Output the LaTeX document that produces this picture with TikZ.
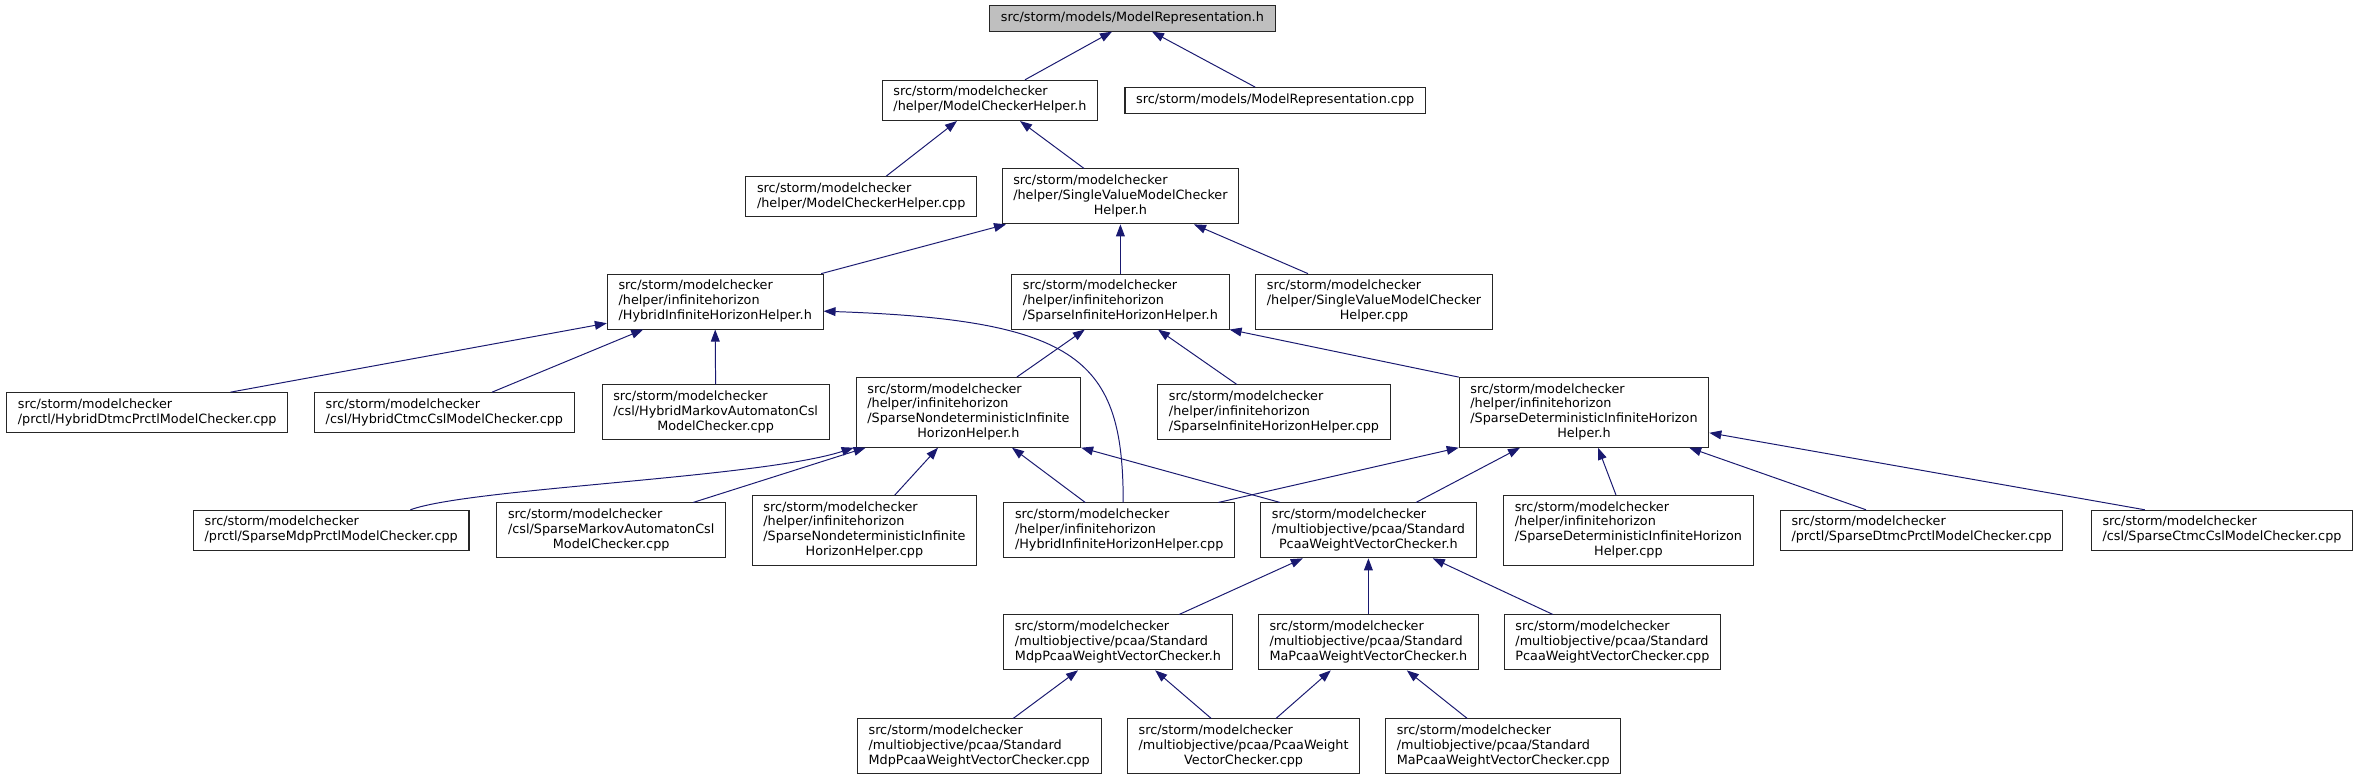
\documentclass[tikz,border=0pt]{standalone}
\usepackage{fontspec}
\setmainfont{DejaVu Sans}
\usepackage{xcolor}
\usepackage{tikz}
\usetikzlibrary{arrows.meta}
\definecolor{edgeblue}{RGB}{25,25,112}
\newcommand{\fpath}[1]{\begin{tabular}{@{}l@{}}#1\end{tabular}}
\newcommand{\lastln}[1]{\multicolumn{1}{@{}c@{}}{#1}}
\tikzset{
  srcfile/.style={rectangle, draw=black!85, fill=white, line width=0.75pt,
                  inner xsep=0.28cm, inner ysep=0.135cm,
                  font=\fontsize{9.1}{10.45}\selectfont},
  rootfile/.style={srcfile, fill=black!25},
  incl/.style={-{Triangle[length=0.3cm, width=0.22cm]}, line width=0.7pt, edgeblue},
}

\begin{document}
\begin{tikzpicture}
\useasboundingbox (0,0) rectangle (58.95,19.5);

% ── Top: the included header ───────────────────────────────
\node[rootfile] (mr_h) at (28.31,19.04) {\fpath{src/storm/models/ModelRepresentation.h}};

% ── Row 1 ──────────────────────────────────────────────────
\node[srcfile] (mch_h) at (24.75,16.99) {\fpath{src/storm/modelchecker\\/helper/ModelCheckerHelper.h}};
\node[srcfile] (mr_cpp) at (31.88,16.99) {\fpath{src/storm/models/ModelRepresentation.cpp}};

% ── Row 2 ──────────────────────────────────────────────────
\node[srcfile] (mch_cpp) at (21.53,14.58) {\fpath{src/storm/modelchecker\\/helper/ModelCheckerHelper.cpp}};
\node[srcfile] (sv_h) at (28.01,14.59) {\fpath{src/storm/modelchecker\\/helper/SingleValueModelChecker\\\lastln{Helper.h}}};

% ── Row 3 ──────────────────────────────────────────────────
\node[srcfile] (hihh_h) at (17.88,11.96) {\fpath{src/storm/modelchecker\\/helper/infinitehorizon\\/HybridInfiniteHorizonHelper.h}};
\node[srcfile] (sihh_h) at (28.01,11.96) {\fpath{src/storm/modelchecker\\/helper/infinitehorizon\\/SparseInfiniteHorizonHelper.h}};
\node[srcfile] (sv_cpp) at (34.35,11.96) {\fpath{src/storm/modelchecker\\/helper/SingleValueModelChecker\\\lastln{Helper.cpp}}};

% ── Row 4 ──────────────────────────────────────────────────
\node[srcfile] (hdtmc) at (3.68,9.18) {\fpath{src/storm/modelchecker\\/prctl/HybridDtmcPrctlModelChecker.cpp}};
\node[srcfile] (hctmc) at (11.11,9.18) {\fpath{src/storm/modelchecker\\/csl/HybridCtmcCslModelChecker.cpp}};
\node[srcfile] (hma) at (17.89,9.19) {\fpath{src/storm/modelchecker\\/csl/HybridMarkovAutomatonCsl\\\lastln{ModelChecker.cpp}}};
\node[srcfile] (snd_h) at (24.21,9.19) {\fpath{src/storm/modelchecker\\/helper/infinitehorizon\\/SparseNondeterministicInfinite\\\lastln{HorizonHelper.h}}};
\node[srcfile] (sihh_cpp) at (31.85,9.19) {\fpath{src/storm/modelchecker\\/helper/infinitehorizon\\/SparseInfiniteHorizonHelper.cpp}};
\node[srcfile] (sdet_h) at (39.6,9.19) {\fpath{src/storm/modelchecker\\/helper/infinitehorizon\\/SparseDeterministicInfiniteHorizon\\\lastln{Helper.h}}};

% ── Row 5 ──────────────────────────────────────────────────
\node[srcfile] (smdp) at (8.28,6.24) {\fpath{src/storm/modelchecker\\/prctl/SparseMdpPrctlModelChecker.cpp}};
\node[srcfile] (sma) at (15.28,6.24) {\fpath{src/storm/modelchecker\\/csl/SparseMarkovAutomatonCsl\\\lastln{ModelChecker.cpp}}};
\node[srcfile] (snd_cpp) at (21.61,6.24) {\fpath{src/storm/modelchecker\\/helper/infinitehorizon\\/SparseNondeterministicInfinite\\\lastln{HorizonHelper.cpp}}};
\node[srcfile] (hihh_cpp) at (27.98,6.24) {\fpath{src/storm/modelchecker\\/helper/infinitehorizon\\/HybridInfiniteHorizonHelper.cpp}};
\node[srcfile] (spcaa_h) at (34.21,6.24) {\fpath{src/storm/modelchecker\\/multiobjective/pcaa/Standard\\\lastln{PcaaWeightVectorChecker.h}}};
\node[srcfile] (sdet_cpp) at (40.71,6.24) {\fpath{src/storm/modelchecker\\/helper/infinitehorizon\\/SparseDeterministicInfiniteHorizon\\\lastln{Helper.cpp}}};
\node[srcfile] (sdtmc) at (48.04,6.24) {\fpath{src/storm/modelchecker\\/prctl/SparseDtmcPrctlModelChecker.cpp}};
\node[srcfile] (sctmc) at (55.55,6.24) {\fpath{src/storm/modelchecker\\/csl/SparseCtmcCslModelChecker.cpp}};

% ── Row 6 ──────────────────────────────────────────────────
\node[srcfile] (smdp_h) at (27.95,3.44) {\fpath{src/storm/modelchecker\\/multiobjective/pcaa/Standard\\\lastln{MdpPcaaWeightVectorChecker.h}}};
\node[srcfile] (sma_h) at (34.21,3.44) {\fpath{src/storm/modelchecker\\/multiobjective/pcaa/Standard\\\lastln{MaPcaaWeightVectorChecker.h}}};
\node[srcfile] (spcaa_cpp) at (40.31,3.44) {\fpath{src/storm/modelchecker\\/multiobjective/pcaa/Standard\\\lastln{PcaaWeightVectorChecker.cpp}}};

% ── Row 7 ──────────────────────────────────────────────────
\node[srcfile] (smdp_cpp) at (24.48,0.84) {\fpath{src/storm/modelchecker\\/multiobjective/pcaa/Standard\\\lastln{MdpPcaaWeightVectorChecker.cpp}}};
\node[srcfile] (pcaa_cpp) at (31.09,0.84) {\fpath{src/storm/modelchecker\\/multiobjective/pcaa/PcaaWeight\\\lastln{VectorChecker.cpp}}};
\node[srcfile] (sma_cpp) at (37.58,0.84) {\fpath{src/storm/modelchecker\\/multiobjective/pcaa/Standard\\\lastln{MaPcaaWeightVectorChecker.cpp}}};

% ── Include edges (child -> included file) ─────────────────
\draw[incl] ([xshift=0.875cm]mch_h.north) -- ([xshift=-0.51cm]mr_h.south);
\draw[incl] ([xshift=-0.5cm]mr_cpp.north) -- ([xshift=0.49cm]mr_h.south);
\draw[incl] ([xshift=0.625cm]mch_cpp.north) -- ([xshift=-0.825cm]mch_h.south);
\draw[incl] ([xshift=-0.91cm]sv_h.north) -- ([xshift=0.75cm]mch_h.south);
\draw[incl] ([xshift=2.65cm]hihh_h.north) -- ([xshift=-2.86cm]sv_h.south);
\draw[incl] (sihh_h.north) -- (sv_h.south);
\draw[incl] ([xshift=-1.65cm]sv_cpp.north) -- ([xshift=1.84cm]sv_h.south);

\draw[incl] ([xshift=2.08cm]hdtmc.north) -- ([yshift=-0.54cm]hihh_h.west);
\draw[incl] ([xshift=1.19cm]hctmc.north) -- ([xshift=-1.8cm]hihh_h.south);
\draw[incl] (hma.north) -- (hihh_h.south);
\draw[incl] ([xshift=0.1cm]hihh_cpp.north) .. controls (28.08,10.5) and (27.0,11.5) .. ([yshift=-0.24cm]hihh_h.east);

\draw[incl] ([xshift=1.21cm]snd_h.north) -- ([xshift=-0.89cm]sihh_h.south);
\draw[incl] ([xshift=-0.93cm]sihh_cpp.north) -- ([xshift=0.94cm]sihh_h.south);
\draw[incl] (sdet_h.north west) -- (sihh_h.south east);

\draw[incl] ([xshift=1.98cm]smdp.north) .. controls (11.75,7.3) and (19.0,7.55) .. ([xshift=-0.05cm]snd_h.south west);
\draw[incl] ([xshift=2.05cm]sma.north) -- ([xshift=0.25cm]snd_h.south west);
\draw[incl] ([xshift=0.76cm]snd_cpp.north) -- ([xshift=-0.76cm]snd_h.south);
\draw[incl] ([xshift=-0.85cm]hihh_cpp.north) -- ([xshift=1.09cm]snd_h.south);
\draw[incl] ([xshift=-2.21cm]spcaa_h.north) -- (snd_h.south east);

\draw[incl] ([xshift=2.48cm]hihh_cpp.north) -- (sdet_h.south west);
\draw[incl] ([xshift=1.19cm]spcaa_h.north) -- ([xshift=-1.6cm]sdet_h.south);
\draw[incl] ([xshift=-0.31cm]sdet_cpp.north) -- ([xshift=0.35cm]sdet_h.south);
\draw[incl] ([xshift=-1.39cm]sdtmc.north) -- ([xshift=2.63cm]sdet_h.south);
\draw[incl] ([xshift=-1.93cm]sctmc.north) -- ([yshift=-0.51cm]sdet_h.east);

\draw[incl] ([xshift=1.53cm]smdp_h.north) -- ([xshift=-1.64cm]spcaa_h.south);
\draw[incl] (sma_h.north) -- (spcaa_h.south);
\draw[incl] ([xshift=-1.49cm]spcaa_cpp.north) -- ([xshift=1.61cm]spcaa_h.south);

\draw[incl] ([xshift=0.85cm]smdp_cpp.north) -- ([xshift=-1.0cm]smdp_h.south);
\draw[incl] ([xshift=-0.81cm]pcaa_cpp.north) -- ([xshift=0.93cm]smdp_h.south);
\draw[incl] ([xshift=0.81cm]pcaa_cpp.north) -- ([xshift=-0.94cm]sma_h.south);
\draw[incl] ([xshift=-0.9cm]sma_cpp.north) -- ([xshift=0.96cm]sma_h.south);

\end{tikzpicture}
\end{document}
